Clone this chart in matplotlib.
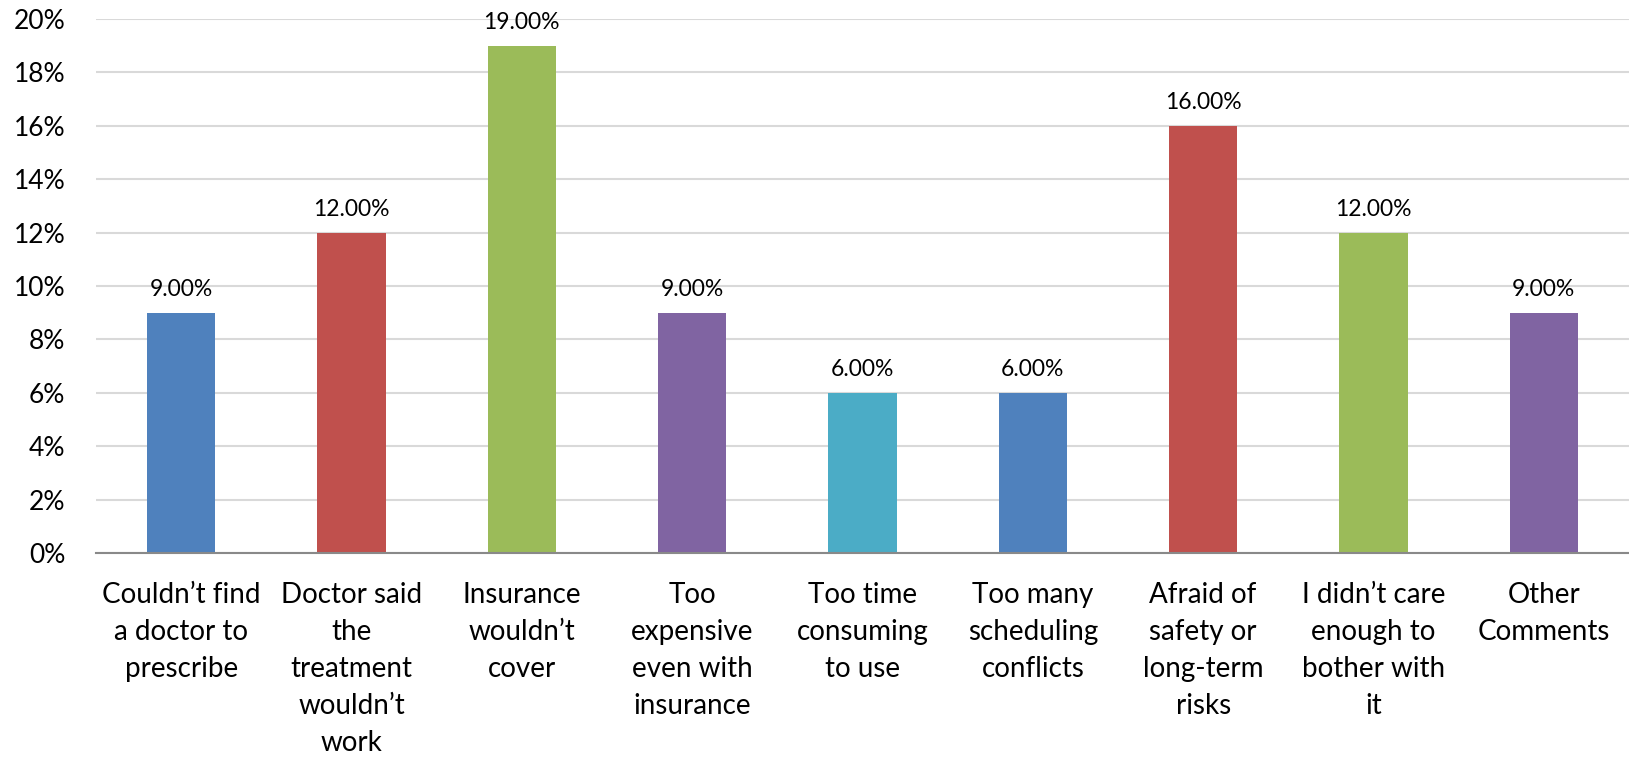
import matplotlib.pyplot as plt
from matplotlib.ticker import FuncFormatter

plt.rcParams['font.family'] = ['Lato', 'DejaVu Sans']

categories = [
    "Couldn\u2019t find\na doctor to\nprescribe",
    "Doctor said\nthe\ntreatment\nwouldn\u2019t\nwork",
    "Insurance\nwouldn\u2019t\ncover",
    "Too\nexpensive\neven with\ninsurance",
    "Too time\nconsuming\nto use",
    "Too many\nscheduling\nconflicts",
    "Afraid of\nsafety or\nlong-term\nrisks",
    "I didn\u2019t care\nenough to\nbother with\nit",
    "Other\nComments",
]
values = [9, 12, 19, 9, 6, 6, 16, 12, 9]
colors = ["#4F81BD", "#C0504D", "#9BBB59", "#8064A2", "#4BACC6",
          "#4F81BD", "#C0504D", "#9BBB59", "#8064A2"]
yticks = [0, 2, 4, 6, 8, 10, 12, 14, 16, 18, 20]

fig = plt.figure(figsize=(16.29, 7.62), dpi=100)
ax = fig.add_axes([96 / 1629, 1 - 553 / 762, 1 - 96 / 1629, (553 - 19) / 762])

x = range(len(values))
bars = ax.bar(x, values, width=0.4, color=colors, zorder=2)

for b, v in zip(bars, values):
    ax.annotate(f"{v:.2f}%", (b.get_x() + b.get_width() / 2, v),
                xytext=(0, 9), textcoords="offset points",
                ha="center", va="bottom", fontsize=16.5, color="#000000")

ax.set_xlim(-0.5, len(values) - 0.5)
ax.set_ylim(0, 20)
ax.set_yticks(yticks)
ax.yaxis.set_major_formatter(FuncFormatter(lambda v, p: f"{v:.0f}%"))
ax.set_xticks(list(x))
ax.set_xticklabels(categories, fontsize=20, linespacing=1.52)

ax.grid(axis="y", color="#D9D9D9", linewidth=1.5, zorder=0)
for s in ["top", "right", "left"]:
    ax.spines[s].set_visible(False)
ax.spines["bottom"].set_color("#898989")
ax.spines["bottom"].set_linewidth(1.5)
ax.spines["bottom"].set_zorder(3)
ax.tick_params(axis="both", length=0)
ax.tick_params(axis="y", labelsize=19, pad=22)
ax.tick_params(axis="x", pad=21)

fig.savefig("out.png", dpi=100)
